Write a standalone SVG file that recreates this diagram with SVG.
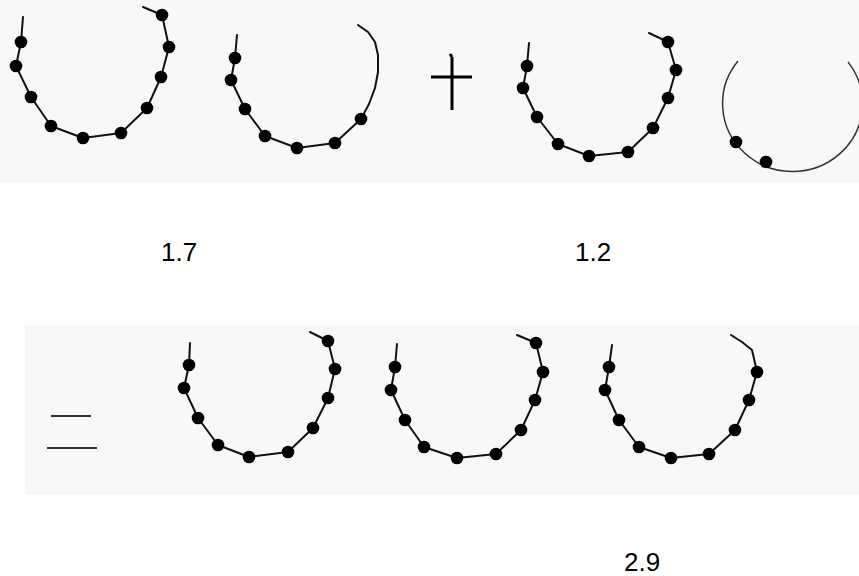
<svg xmlns="http://www.w3.org/2000/svg" width="859" height="576" viewBox="0 0 859 576">
<style>
.band{fill:#f8f8f8}
.ring{fill:none;stroke:#111;stroke-width:2;stroke-linejoin:round;stroke-linecap:round}
.thin{fill:none;stroke:#333;stroke-width:1.5}
.dot{fill:#000}
.sym{stroke:#000;stroke-width:3;fill:none}
.eq{stroke:#333;stroke-width:2;fill:none}
.num{font-family:"Liberation Sans",Arial,sans-serif;font-size:26px;fill:#000}
</style>
<defs>
<circle id="d" r="6.3" class="dot"/>
</defs>
<rect class="band" x="0" y="0" width="859" height="183"/>
<rect class="band" x="25" y="325" width="834" height="170"/>

<g id="ring1">
<polyline class="ring" points="23,17 21,42 16,66 31,97 51,126 83,138 121,133 147,108 161,77 169,47 162,15 143,7"/>
<use href="#d" x="21" y="42"/><use href="#d" x="16" y="66"/><use href="#d" x="31" y="97"/><use href="#d" x="51" y="126"/><use href="#d" x="83" y="138"/><use href="#d" x="121" y="133"/><use href="#d" x="147" y="108"/><use href="#d" x="161" y="77"/><use href="#d" x="169" y="47"/><use href="#d" x="162" y="15"/>
</g>

<g id="ring2">
<polyline class="ring" points="237,35 235,58 231,80 245,109 265,136 297,148 335,143 361,119 369,104 375,88 378,72 378,55 375,42 368,32 358,25"/>
<use href="#d" x="235" y="58"/><use href="#d" x="231" y="80"/><use href="#d" x="245" y="109"/><use href="#d" x="265" y="136"/><use href="#d" x="297" y="148"/><use href="#d" x="335" y="143"/><use href="#d" x="361" y="119"/>
</g>

<g id="plus">
<path class="sym" d="M452 57 V110 M431 77 H472 M450 54 L452 57"/>
</g>

<g id="ring3">
<polyline class="ring" points="529,43 527,66 523,88 537,117 558,144 589,156 628,152 653,128 668,98 676,70 668,42 649,33"/>
<use href="#d" x="527" y="66"/><use href="#d" x="523" y="88"/><use href="#d" x="537" y="117"/><use href="#d" x="558" y="144"/><use href="#d" x="589" y="156"/><use href="#d" x="628" y="152"/><use href="#d" x="653" y="128"/><use href="#d" x="668" y="98"/><use href="#d" x="676" y="70"/><use href="#d" x="668" y="42"/>
</g>

<g id="ring4">
<path class="thin" d="M738 61 A70 68 0 1 0 848 62"/>
<use href="#d" x="736" y="142"/><use href="#d" x="766" y="162"/>
</g>

<g id="equals">
<path class="eq" d="M51 416 H91 M47 448 H97"/>
</g>

<g id="ring5">
<polyline class="ring" points="190,343 189,365 184,388 198,418 218,445 249,457 288,452 313,428 328,398 335,369 328,341 310,332"/>
<use href="#d" x="189" y="365"/><use href="#d" x="184" y="388"/><use href="#d" x="198" y="418"/><use href="#d" x="218" y="445"/><use href="#d" x="249" y="457"/><use href="#d" x="288" y="452"/><use href="#d" x="313" y="428"/><use href="#d" x="328" y="398"/><use href="#d" x="335" y="369"/><use href="#d" x="328" y="341"/>
</g>

<g id="ring6">
<polyline class="ring" points="397,344 395,367 391,390 405,420 424,447 457,458 496,454 521,430 535,400 543,372 536,343 517,335"/>
<use href="#d" x="395" y="367"/><use href="#d" x="391" y="390"/><use href="#d" x="405" y="420"/><use href="#d" x="424" y="447"/><use href="#d" x="457" y="458"/><use href="#d" x="496" y="454"/><use href="#d" x="521" y="430"/><use href="#d" x="535" y="400"/><use href="#d" x="543" y="372"/><use href="#d" x="536" y="343"/>
</g>

<g id="ring7">
<polyline class="ring" points="612,345 609,367 605,390 619,420 639,447 671,458 709,454 735,430 749,400 757,372 752,350 742,342 731,335"/>
<use href="#d" x="609" y="367"/><use href="#d" x="605" y="390"/><use href="#d" x="619" y="420"/><use href="#d" x="639" y="447"/><use href="#d" x="671" y="458"/><use href="#d" x="709" y="454"/><use href="#d" x="735" y="430"/><use href="#d" x="749" y="400"/><use href="#d" x="757" y="372"/>
</g>

<g id="labels">
<text class="num" x="161" y="261">1.7</text>
<text class="num" x="575" y="261">1.2</text>
<text class="num" x="624" y="571">2.9</text>
</g>
</svg>
